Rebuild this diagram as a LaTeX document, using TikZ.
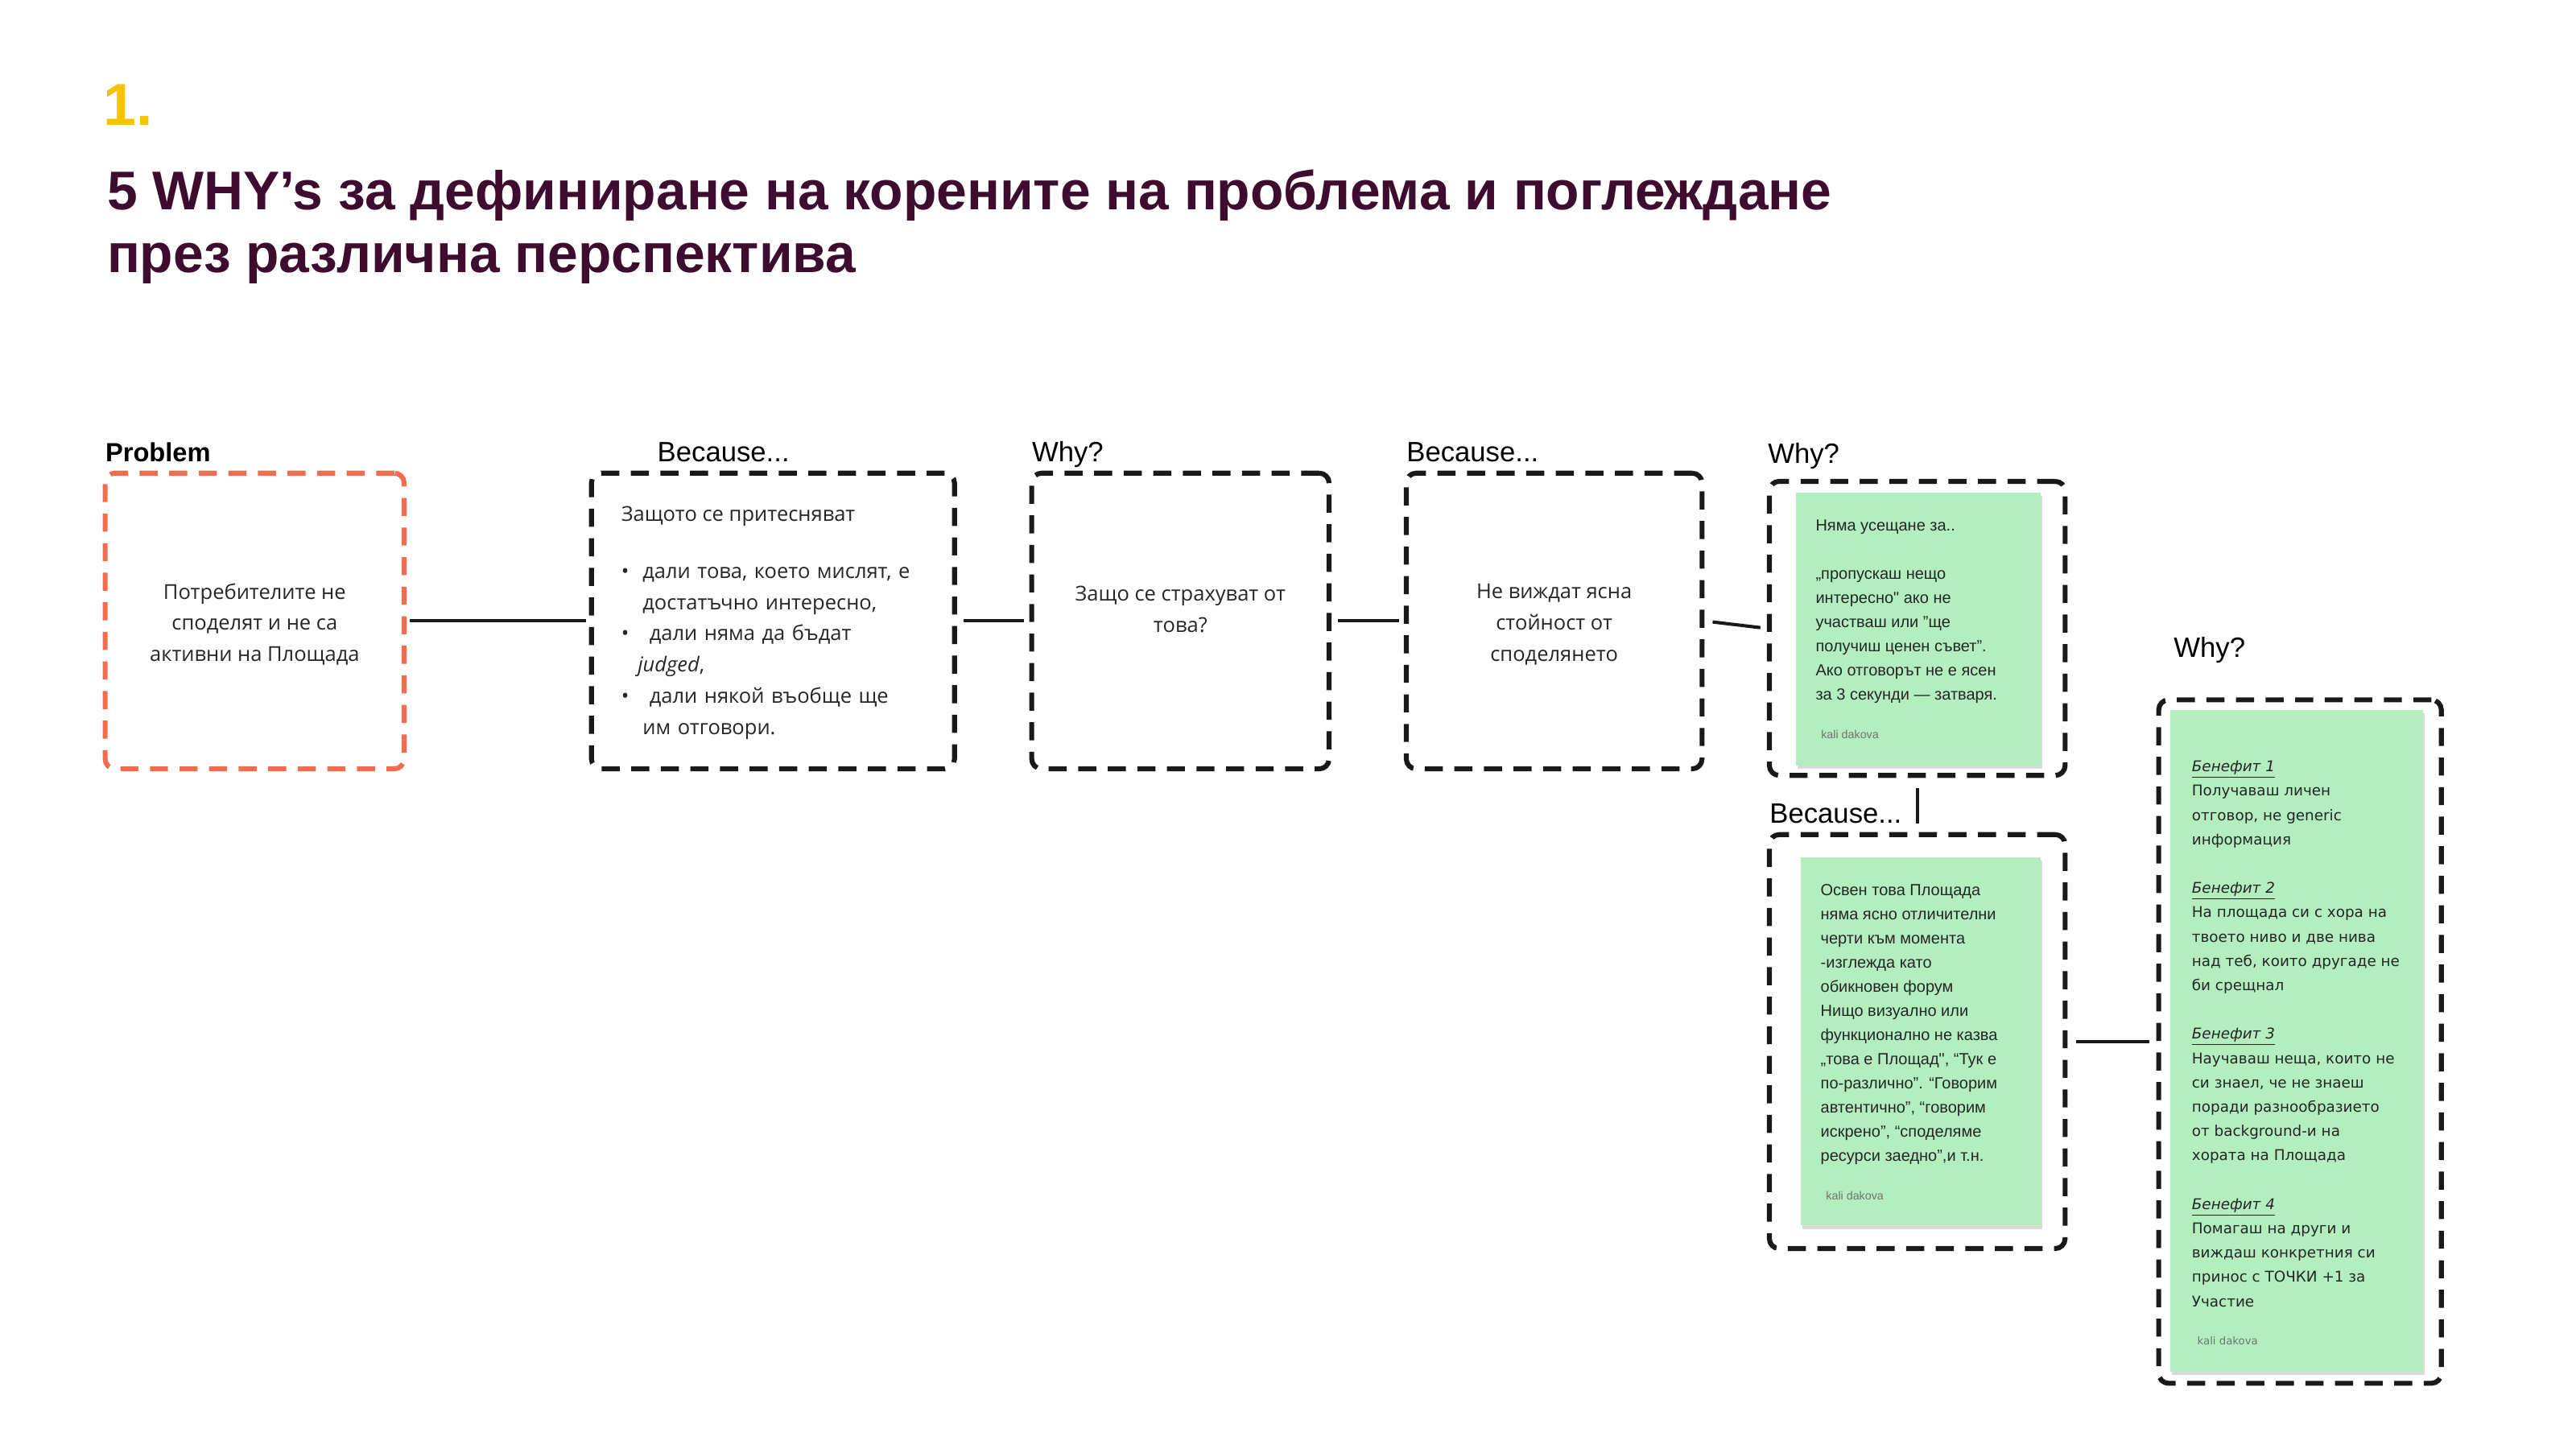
\documentclass[tikz,border=0pt]{standalone}
\usepackage{fontspec}
\setmainfont{Liberation Sans}
\newfontfamily\handfont{Open Sans}
\newfontfamily\notefont{Liberation Sans}
\newfontfamily\widefont{DejaVu Sans}
\usetikzlibrary{positioning}
\definecolor{titlecol}{HTML}{3D0C2E}
\definecolor{numcol}{HTML}{F5C400}
\definecolor{probcol}{HTML}{F26D4F}
\definecolor{notecol}{HTML}{B2EEBE}
\definecolor{shadecol}{HTML}{DADADA}
\tikzstyle{dbox}=[draw=black!90,line width=3pt,dash pattern=on 11pt off 7pt,rounded corners=6pt,inner sep=0pt]
\tikzstyle{note}=[fill=notecol,inner sep=0pt]
\tikzstyle{caption}=[anchor=base west,inner sep=0pt,font=\fontsize{17}{20}\selectfont]
\tikzstyle{boxtext}=[inner sep=0pt,font=\handfont\fontsize{12.5}{19}\selectfont,text=black!85]
\tikzstyle{notetext}=[anchor=north west,inner sep=0pt,align=left,font=\notefont\fontsize{9.8}{14.7}\selectfont,text=black!85]
\tikzstyle{sign}=[text=black!55,font=\notefont\fontsize{7}{8}\selectfont]
\tikzstyle{link}=[line width=2pt,black!90]
\begin{document}
\begin{tikzpicture}[x=1pt,y=-1pt]
    \useasboundingbox (0,0) rectangle (1568,882);
    % header
    \node[anchor=base west,inner sep=0pt,text=numcol,font=\bfseries\fontsize{36}{40}\selectfont] (num) at (63,76) {1.};
    \node[anchor=base west,inner sep=0pt,text=titlecol,font=\bfseries\fontsize{33.2}{38.5}\selectfont,align=left] (title) at (65,166)
        {5 WHY’s за дефиниране на корените на проблема и поглеждане\\през различна перспектива};
    % boxes
    \node[dbox,draw=probcol,minimum width=182pt,minimum height=180pt] (prob) at (155,378) {};
    \node[dbox,minimum width=221pt,minimum height=180pt] (bc1) at (470.5,378) {};
    \node[dbox,minimum width=181pt,minimum height=180pt] (why1) at (718.5,378) {};
    \node[dbox,minimum width=180pt,minimum height=180pt] (bc2) at (946,378) {};
    \node[dbox,minimum width=180pt,minimum height=179pt] (why2) at (1167,382.5) {};
    \node[dbox,minimum width=180pt,minimum height=252pt] (bc3) at (1167,634) {};
    \node[dbox,minimum width=172pt,minimum height=416pt] (why3) at (1400,634) {};
    % captions
    \node[caption,font=\bfseries\fontsize{16}{20}\selectfont] at (64,281) {Problem};
    \node[caption] at (400,281) {Because...};
    \node[caption] at (628,281) {Why?};
    \node[caption] at (856,281) {Because...};
    \node[caption] at (1076,282) {Why?};
    \node[caption] at (1077,501) {Because...};
    \node[caption] at (1323,400) {Why?};
    % box texts
    \node[boxtext,align=center] at (155,380) {Потребителите не\\споделят и не са\\активни на Площада};
    \node[boxtext,anchor=north west,align=left] at (378,308) {Защото се притесняват};
    \node[boxtext,anchor=north west,align=left,text width=190pt] at (378,345)
        {\makebox[13pt][l]{•}дали това, което мислят, е\\\hspace*{13pt}достатъчно интересно,\\\makebox[13pt][l]{•} дали няма да бъдат\\\hspace*{10pt}{\itshape judged},\\\makebox[13pt][l]{•} дали някой въобще ще\\\hspace*{13pt}им отговори.};
    \node[boxtext,align=center] at (718.5,371) {Защо се страхуват от\\това?};
    \node[boxtext,align=center] at (946,380) {Не виждат ясна\\стойност от\\споделянето};
    % notes
    \fill[shadecol] (1094,302) rectangle (1243,468);
    \node[note,minimum width=149pt,minimum height=166pt] (n2) at (1167.5,383) {};
    \node[notetext] at (1105,316) {Няма усещане за..\\[14.7pt] „пропускаш нещо\\интересно" ако не\\участваш или ”ще\\получиш ценен съвет”.\\Ако отговорът не е ясен\\за 3 секунди — затваря.};
    \node[sign,anchor=west] at (1105,447) {kali dakova};
    \fill[shadecol] (1097,524) rectangle (1243,748);
    \node[note,minimum width=146pt,minimum height=224pt] (n3) at (1169,634) {};
    \node[notetext] at (1108,538) {Освен това Площада\\няма ясно отличителни\\черти към момента\\ -изглежда като\\обикновен форум\\Нищо визуално или\\функционално не казва\\„това е Площад", “Тук е\\по-различно”. “Говорим\\автентично”, “говорим\\искрено”, “споделяме\\ресурси заедно”,и т.н.};
    \node[sign,anchor=west] at (1108,728) {kali dakova};
    \fill[shadecol] (1322,434) rectangle (1476,837);
    \node[note,minimum width=154pt,minimum height=403pt] (n4) at (1398,633.5) {};
    \node[notetext,font=\widefont\fontsize{9}{14.8}\selectfont] at (1334,463)
        {\textit{\underline{Бенефит 1}}\\Получаваш личен\\отговор, не generic\\информация\\[14.8pt]\textit{\underline{Бенефит 2}}\\На площада си с хора на\\твоето ниво и две нива\\над теб, които другаде не\\би срещнал\\[14.8pt]\textit{\underline{Бенефит 3}}\\Научаваш неща, които не\\си знаел, че не знаеш\\поради разнообразието\\от background-и на\\хората на Площада\\[14.8pt]\textit{\underline{Бенефит 4}}\\Помагаш на други и\\виждаш конкретния си\\принос с ТОЧКИ +1 за\\Участие};
    \node[sign,anchor=west,font=\widefont\fontsize{6.5}{8}\selectfont] at (1334,816) {kali dakova};
    % connectors
    \draw[link,shorten <=2pt,shorten >=2pt] (prob.east) -- (bc1.west);
    \draw[link,shorten <=4pt,shorten >=3pt] (bc1.east) -- (why1.west);
    \draw[link,shorten <=4pt,shorten >=3pt] (why1.east) -- (bc2.west);
    \draw[link,shorten <=5pt,shorten >=4pt] (bc2.east) -- (why2.west);
    \draw[link,shorten <=6pt,shorten >=5pt] (why2.south) -- (bc3.north);
    \draw[link,shorten <=5pt,shorten >=4pt] (bc3.east) -- (why3.west);
\end{tikzpicture}
\end{document}
